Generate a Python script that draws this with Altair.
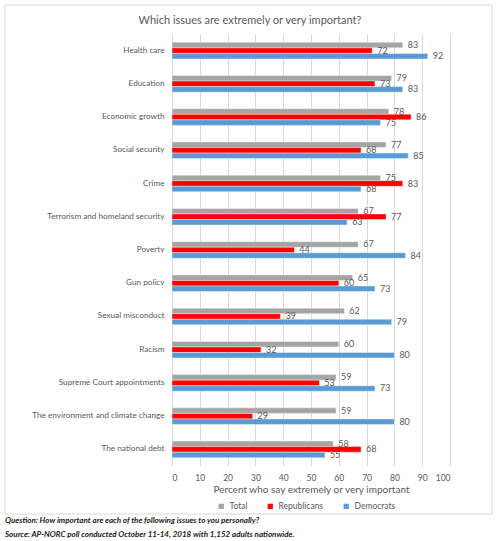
import altair as alt
import pandas as pd

issues = [
    "Health care", "Education", "Economic growth", "Social security", "Crime",
    "Terrorism and homeland security", "Poverty", "Gun policy", "Sexual misconduct",
    "Racism", "Supreme Court appointments", "The environment and climate change",
    "The national debt",
]
total = [83, 79, 78, 77, 75, 67, 67, 65, 62, 60, 59, 59, 58]
republicans = [72, 73, 86, 68, 83, 77, 44, 60, 39, 32, 53, 29, 68]
democrats = [92, 83, 75, 85, 68, 63, 84, 73, 79, 80, 73, 80, 55]
series = ["Total", "Republicans", "Democrats"]
colors = ["#A5A5A5", "#FF0000", "#5B9BD5"]
x_ticks = [0, 10, 20, 30, 40, 50, 60, 70, 80, 90, 100]

rows = []
for i, iss in enumerate(issues):
    for s, vals in zip(series, [total, republicans, democrats]):
        rows.append({"issue": iss, "series": s, "value": vals[i]})
df = pd.DataFrame(rows)

FONT = "Lato"
GREY_TXT = "#595959"

y_enc = alt.Y("issue:N", sort=issues, title=None,
              scale=alt.Scale(paddingInner=0.5, paddingOuter=0.25),
              axis=alt.Axis(labelFont=FONT, labelFontSize=8.2, labelColor=GREY_TXT,
                            ticks=False, domain=False, labelPadding=8, grid=False,
                            labelLimit=300))
x_enc = alt.X("value:Q", scale=alt.Scale(domain=[0, 100], nice=False),
              title="Percent who say extremely or very important",
              axis=alt.Axis(values=x_ticks, tickCount=11, labelFont=FONT, labelFontSize=8.5,
                            labelColor=GREY_TXT, ticks=False, domain=False,
                            gridColor="#D9D9D9", labelPadding=7, labelOverlap=False,
                            labelSeparation=0,
                            titleFont=FONT, titleFontSize=10, titleColor=GREY_TXT,
                            titleFontWeight="normal", titlePadding=3))
yoff = alt.YOffset("series:N", sort=series)

base = alt.Chart(df)
bars = base.mark_bar(stroke="white", strokeWidth=0.4).encode(
    y=y_enc, x=x_enc, yOffset=yoff,
    color=alt.Color("series:N", sort=series,
                    scale=alt.Scale(domain=series, range=colors),
                    legend=alt.Legend(orient="none", legendX=45, legendY=468,
                                      direction="horizontal", title=None,
                                      symbolType="square", symbolSize=28,
                                      labelFont=FONT, labelFontSize=8.5,
                                      labelColor=GREY_TXT, columnPadding=18,
                                      symbolStrokeWidth=0)),
)
labels = base.mark_text(align="left", baseline="middle", dx=5, font=FONT,
                        fontSize=9, color=GREY_TXT).encode(
    y=y_enc, x=x_enc, yOffset=yoff, text="value:Q")

one = alt.Chart(pd.DataFrame({"a": [0]}))
frame = one.mark_rect(fill=None, stroke="#D9D9D9", strokeWidth=1).encode(
    x=alt.value(-167), x2=alt.value(320), y=alt.value(-29), y2=alt.value(480))
title = one.mark_text(align="center", baseline="middle", font=FONT, fontSize=11,
                      color=GREY_TXT).encode(
    x=alt.value(78), y=alt.value(-13),
    text=alt.value("Which issues are extremely or very important?"))
note1 = one.mark_text(align="left", baseline="middle", font=FONT, fontSize=8,
                      fontStyle="italic", fontWeight="bold", color="#1a1a1a").encode(
    x=alt.value(-167), y=alt.value(487),
    text=alt.value("Question: How important are each of the following issues to you personally?"))
note2 = one.mark_text(align="left", baseline="middle", font=FONT, fontSize=8,
                      fontStyle="italic", fontWeight="bold", color="#1a1a1a").encode(
    x=alt.value(-167), y=alt.value(501),
    text=alt.value("Source: AP-NORC poll conducted October 11-14, 2018 with 1,152 adults nationwide."))

chart = alt.layer(bars, labels, frame, title, note1, note2).properties(
    width=278, height=432,
    autosize=alt.AutoSizeParams(type="none"),
    padding={"left": 172, "top": 34, "right": 50, "bottom": 75},
    background="white",
).configure_view(stroke=None)

chart.save("out.html", embed_options={"renderer": "svg", "actions": False})
